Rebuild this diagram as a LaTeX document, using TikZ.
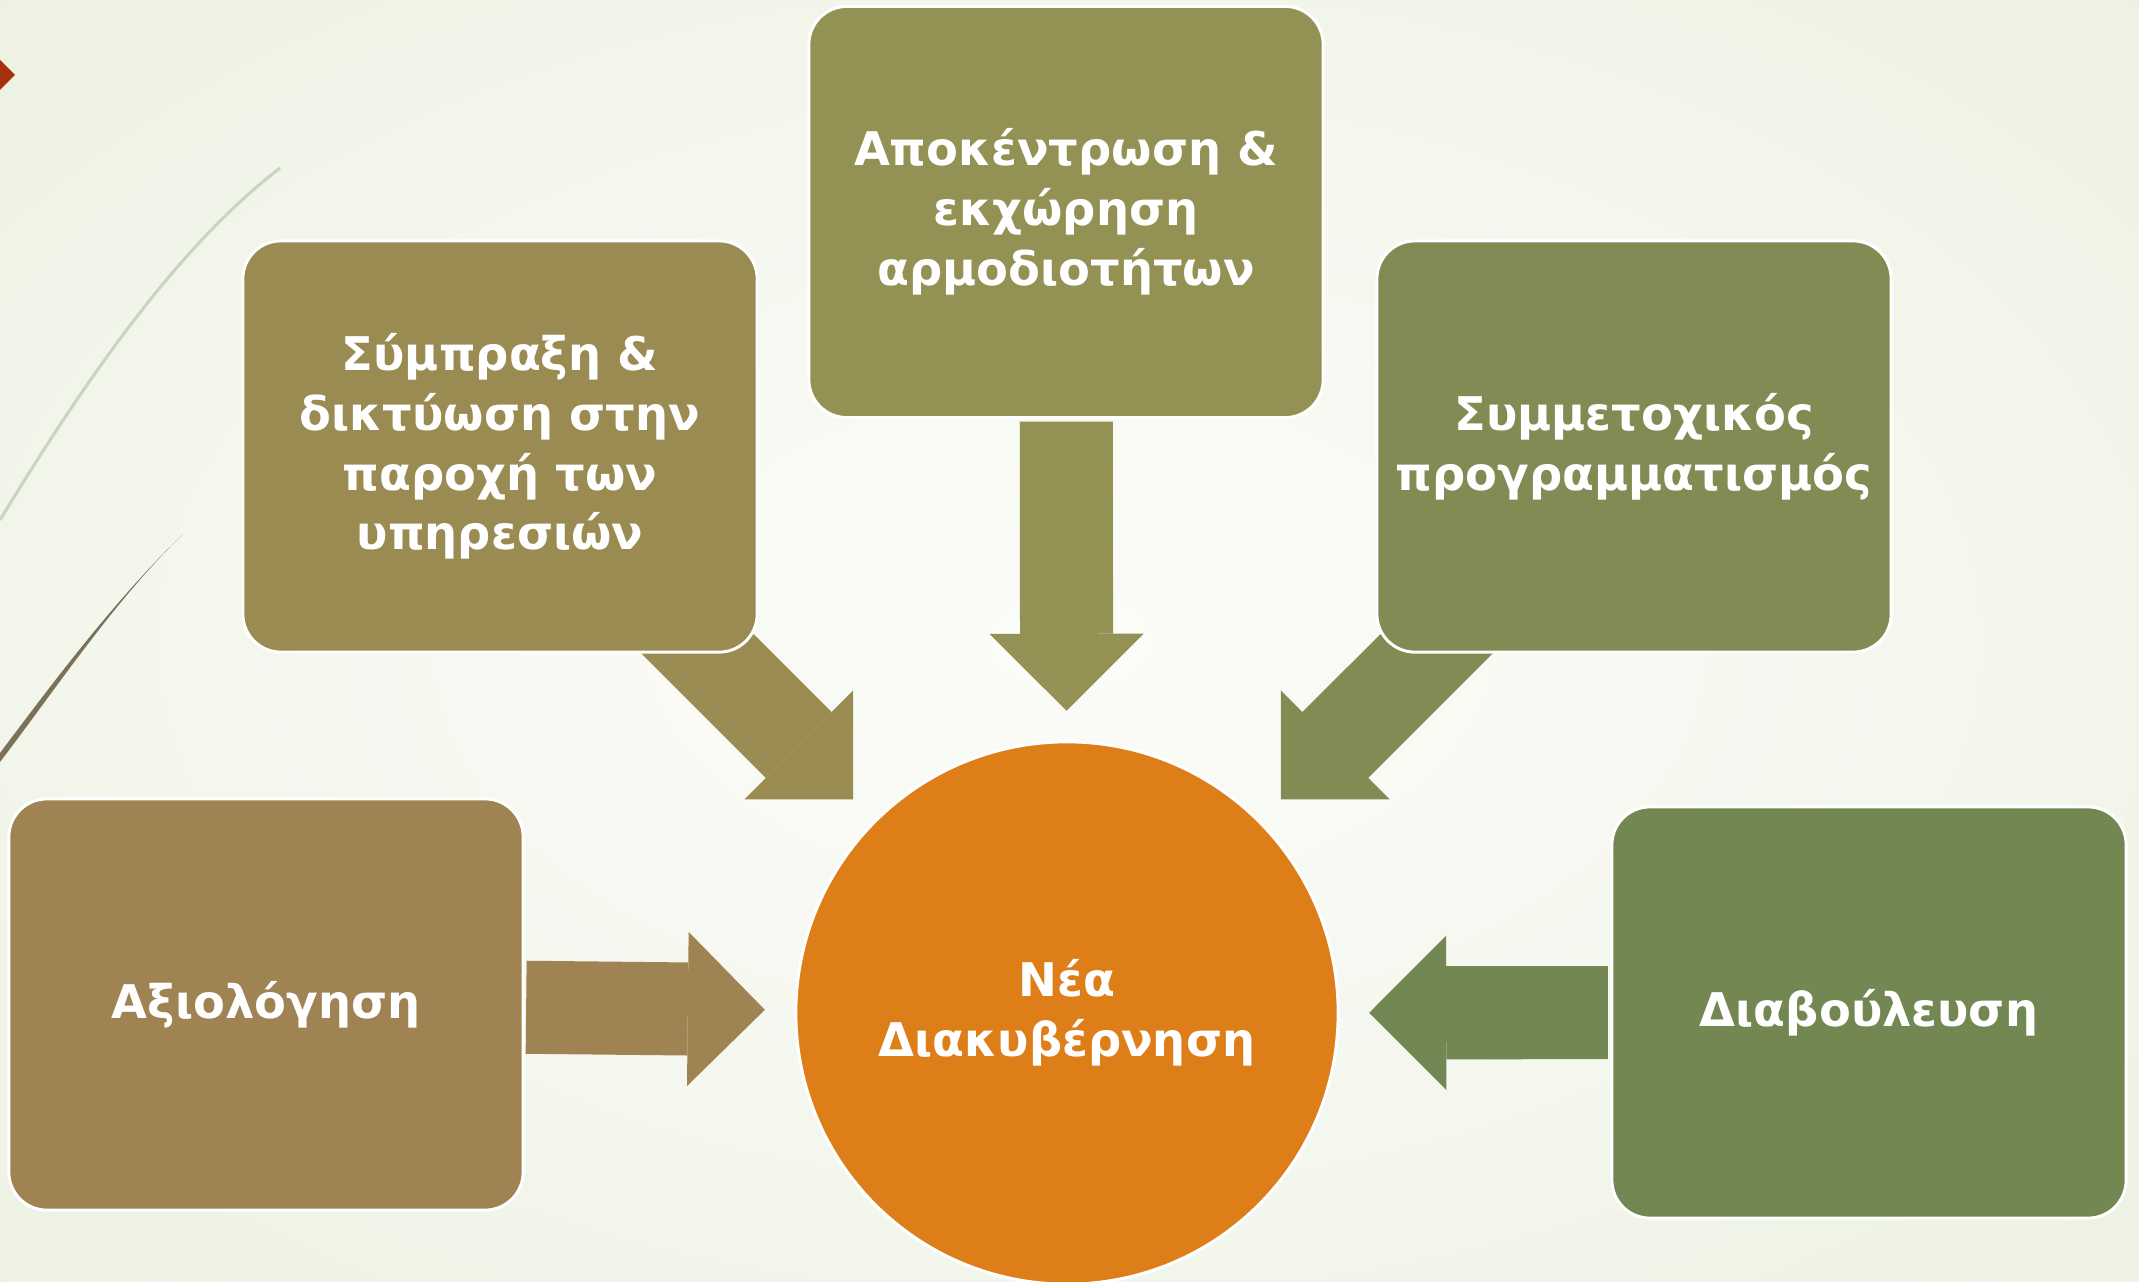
\documentclass[tikz,border=0pt]{standalone}
\usepackage{fontspec}
\setmainfont{DejaVu Sans}
\usetikzlibrary{arrows.meta}

\definecolor{colapo}{HTML}{939153}
\definecolor{colsym}{HTML}{998B52}
\definecolor{colsum}{HTML}{838B54}
\definecolor{colaxi}{HTML}{A08352}
\definecolor{coldia}{HTML}{738752}
\definecolor{hubcol}{HTML}{DE7E19}
\definecolor{redmark}{HTML}{A8300F}
\definecolor{curvelight}{HTML}{CDD4BD}
\definecolor{curvedark}{HTML}{7B7159}
\definecolor{bgA}{HTML}{FBFCF8}
\definecolor{bgB}{HTML}{F4F7EE}
\definecolor{bgC}{HTML}{E8EEDA}
\definecolor{bgD}{HTML}{DDE7C8}

\pgfdeclareradialshading{slidebg}{\pgfpoint{0bp}{0bp}}{color(0bp)=(bgA); color(20bp)=(bgB); color(45bp)=(bgC); color(71bp)=(bgD)}

\pgfdeclarelayer{back}
\pgfdeclarelayer{arrowlayer}
\pgfsetlayers{back,arrowlayer,main}

\tikzset{
  box/.style={draw=white, line width=0.03cm, rounded corners=0.38cm,
    minimum width=5.14cm, minimum height=4.11cm, outer sep=0pt,
    text=white, align=center, font=\fontsize{13.2}{17}\selectfont\bfseries},
  hub/.style={circle, draw=white, line width=0.03cm, fill=hubcol,
    minimum size=5.42cm, outer sep=0pt, text=white, align=center,
    font=\fontsize{13.2}{17}\selectfont\bfseries},
  bigarrow/.style={line width=0.93cm,
    -{Triangle[length=0.77cm,width=1.54cm,line width=0pt]},
    shorten >=0.31cm}
}

\begin{document}
\begin{tikzpicture}[x=0.01cm,y=-0.01cm]
	\useasboundingbox (0,0) rectangle (2139,1282);
	\begin{pgfonlayer}{back}
		\shade[shading=slidebg] (0,0) rectangle (2139,1282);
		\fill[redmark] (0,60) -- (15,75) -- (0,90) -- cycle;
		\draw[curvelight, line width=0.03cm] (0,520) .. controls (90,372) and (180,245) .. (280,168);
		\fill[curvedark] (0,762) .. controls (55,690) and (115,600) .. (182,535)
			.. controls (112,603) and (52,684) .. (0,753) -- cycle;
	\end{pgfonlayer}
	% boxes round the centre
	\node[box, fill=colapo] (apo) at (1066,212) {Αποκέντρωση \&\\εκχώρηση\\αρμοδιοτήτων};
	\node[box, fill=colsym] (sym) at (500,446.5) {Σύμπραξη \&\\δικτύωση στην\\παροχή των\\υπηρεσιών};
	\node[box, fill=colsum] (sum) at (1634,446.5) {Συμμετοχικός\\προγραμματισμός};
	\node[box, fill=colaxi] (axi) at (266,1004.5) {Αξιολόγηση};
	\node[box, fill=coldia] (dia) at (1869,1012.5) {Διαβούλευση};
	\node[hub] (nea) at (1067,1013) {Νέα\\Διακυβέρνηση};
	% block arrows
	\begin{pgfonlayer}{arrowlayer}
		\draw[bigarrow, colapo, shorten <=0.04cm] (apo) -- (nea);
		\draw[bigarrow, colsym] (sym.center) -- (nea);
		\draw[bigarrow, colsum] (sum.center) -- (nea);
		\draw[bigarrow, colaxi, shorten <=0.03cm] (axi) -- (nea);
		\draw[bigarrow, coldia, shorten <=0.04cm] (dia) -- (nea);
	\end{pgfonlayer}
\end{tikzpicture}
\end{document}
